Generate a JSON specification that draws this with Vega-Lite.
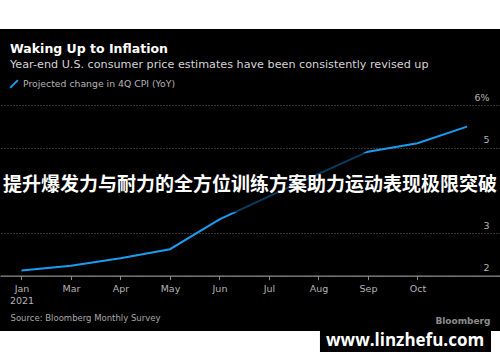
{
  "$schema": "https://vega.github.io/schema/vega-lite/v6.json",
  "width": 500,
  "height": 302,
  "autosize": {"type": "none"},
  "padding": {"top": 29, "left": 0, "right": 0, "bottom": 31},
  "background": "white",
  "config": {
    "view": {"fill": "black", "stroke": null},
    "font": "DejaVu Sans"
  },
  "title": {
    "text": "Waking Up to Inflation",
    "subtitle": "Year-end U.S. consumer price estimates have been consistently revised up",
    "anchor": "start",
    "frame": "group",
    "dx": 10,
    "offset": -41,
    "font": "DejaVu Sans",
    "fontSize": 12.5,
    "fontWeight": "bold",
    "color": "white",
    "subtitleFont": "DejaVu Sans",
    "subtitleFontSize": 11.2,
    "subtitleColor": "#d4d4d4",
    "subtitlePadding": 3
  },
  "data": {
    "values": [
      {"idx": 0, "month": "Jan", "cpi": 2.12, "series": "Projected change in 4Q CPI (YoY)"},
      {"idx": 1, "month": "Mar", "cpi": 2.23, "series": "Projected change in 4Q CPI (YoY)"},
      {"idx": 2, "month": "Apr", "cpi": 2.41, "series": "Projected change in 4Q CPI (YoY)"},
      {"idx": 3, "month": "May", "cpi": 2.62, "series": "Projected change in 4Q CPI (YoY)"},
      {"idx": 4, "month": "Jun", "cpi": 3.32, "series": "Projected change in 4Q CPI (YoY)"},
      {"idx": 5, "month": "Jul", "cpi": 3.86, "series": "Projected change in 4Q CPI (YoY)"},
      {"idx": 6, "month": "Aug", "cpi": 4.39, "series": "Projected change in 4Q CPI (YoY)"},
      {"idx": 7, "month": "Sep", "cpi": 4.91, "series": "Projected change in 4Q CPI (YoY)"},
      {"idx": 8, "month": "Oct", "cpi": 5.11, "series": "Projected change in 4Q CPI (YoY)"},
      {"idx": 9, "month": "Nov", "cpi": 5.50, "series": "Projected change in 4Q CPI (YoY)"}
    ]
  },
  "layer": [
    {
      "mark": {"type": "line", "strokeWidth": 2, "clip": false},
      "encoding": {
        "x": {
          "field": "idx",
          "type": "quantitative",
          "scale": {"domain": [-0.434, 9.667], "nice": false, "zero": false},
          "axis": {
            "values": [0, 1, 2, 3, 4, 5, 6, 7, 8],
            "labelExpr": "datum.value == 0 ? ['Jan', '2021'] : ['Jan','Mar','Apr','May','Jun','Jul','Aug','Sep','Oct','Nov'][datum.value]",
            "offset": -55.4,
            "grid": false,
            "domainColor": "#8a8a8a",
            "domainWidth": 1.2,
            "tickColor": "#8a8a8a",
            "tickSize": 4,
            "labelColor": "#b4b4b4",
            "labelFontSize": 9.5,
            "labelPadding": 4,
            "labelFlush": false,
            "labelLineHeight": 12,
            "title": "Source: Bloomberg Monthly Survey",
            "titleX": 10,
            "titleY": 42,
            "titleAlign": "left",
            "titleBaseline": "middle",
            "titleAnchor": "start",
            "titleFontSize": 8.5,
            "titleFontWeight": "normal",
            "titleColor": "#a8a8a8"
          }
        },
        "y": {
          "field": "cpi",
          "type": "quantitative",
          "scale": {"domain": [0.699, 7.792], "nice": false, "zero": false},
          "axis": {
            "orient": "right",
            "values": [2, 3, 5, 6],
            "labelExpr": "datum.value == 6 ? '6%' : datum.label",
            "domain": false,
            "ticks": false,
            "grid": true,
            "gridColor": "#6a6a6a",
            "gridDash": [1, 2],
            "gridWidth": 1,
            "labelAlign": "right",
            "labelBaseline": "bottom",
            "labelPadding": -11,
            "labelOffset": -3,
            "labelColor": "#b4b4b4",
            "labelFontSize": 9.5,
            "title": "Bloomberg",
            "titleAngle": 0,
            "titleX": -10,
            "titleY": 291,
            "titleAlign": "right",
            "titleBaseline": "middle",
            "titleFontSize": 9,
            "titleFontWeight": "bold",
            "titleColor": "#8c8c8c"
          }
        },
        "color": {
          "field": "series",
          "type": "nominal",
          "scale": {"range": ["#1a9cf0"]},
          "legend": {
            "title": null,
            "orient": "none",
            "legendX": 9,
            "legendY": 50,
            "symbolType": "M-1,1L1,-1",
            "symbolSize": 60,
            "symbolStrokeWidth": 2,
            "labelColor": "#b4b4b4",
            "labelFontSize": 9.3,
            "labelOffset": 4
          }
        }
      }
    },
    {
      "data": {"values": [{}]},
      "mark": {"type": "rect", "color": "black", "opacity": 0.62},
      "encoding": {
        "x": {"datum": -0.434, "type": "quantitative"},
        "x2": {"datum": 9.667},
        "y": {"datum": 3.49, "type": "quantitative"},
        "y2": {"datum": 4.88}
      }
    },
    {
      "data": {"values": [{"banner": "提升爆发力与耐力的全方位训练方案助力运动表现极限突破"}]},
      "mark": {"type": "text", "font": "Noto Sans CJK SC", "fontSize": 19, "fontWeight": "bold", "color": "white", "align": "center", "baseline": "middle"},
      "encoding": {
        "x": {"datum": 4.616, "type": "quantitative"},
        "y": {"datum": 4.13, "type": "quantitative"},
        "text": {"field": "banner"}
      }
    },
    {
      "data": {"values": [{}]},
      "mark": {"type": "rect", "color": "black", "clip": false},
      "encoding": {
        "x": {"datum": 6.03, "type": "quantitative"},
        "x2": {"datum": 9.485},
        "y": {"datum": 0.699, "type": "quantitative"},
        "y2": {"datum": 0.207}
      }
    },
    {
      "data": {"values": [{"mark": "www.linzhefu.com"}]},
      "mark": {"type": "text", "font": "Open Sans", "fontSize": 17, "fontWeight": "bold", "color": "white", "align": "center", "baseline": "middle", "clip": false},
      "encoding": {
        "x": {"datum": 7.75, "type": "quantitative"},
        "y": {"datum": 0.464, "type": "quantitative"},
        "text": {"field": "mark"}
      }
    }
  ]
}
